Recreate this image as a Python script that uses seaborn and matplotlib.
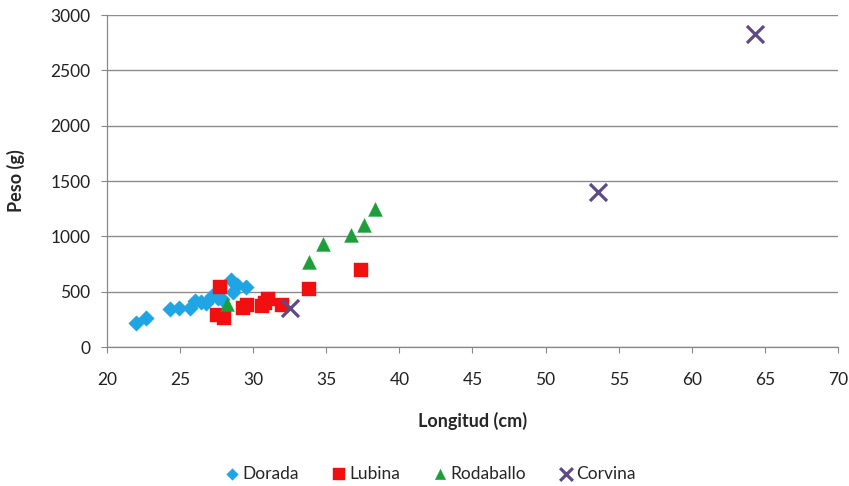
import matplotlib
matplotlib.use("Agg")
import matplotlib.pyplot as plt
import seaborn as sns
import pandas as pd

# Longitud (cm) y peso (g) por especie
dorada_x = [22.0, 22.7, 24.3, 24.9, 25.7, 26.0, 26.4, 26.8, 27.2, 27.6, 27.9, 28.5, 28.6, 28.9, 29.5]
dorada_y = [215, 260, 345, 350, 355, 420, 410, 400, 460, 440, 430, 610, 500, 560, 540]

lubina_x = [27.5, 27.7, 28.0, 29.3, 29.6, 30.6, 30.8, 31.0, 32.0, 33.8, 37.4]
lubina_y = [290, 540, 260, 350, 380, 370, 400, 430, 380, 525, 700]

rodaballo_x = [28.2, 33.8, 34.8, 36.7, 37.6, 38.3]
rodaballo_y = [385, 770, 930, 1010, 1100, 1250]

corvina_x = [32.5, 53.6, 64.3]
corvina_y = [350, 1400, 2830]

especies = ["Dorada", "Lubina", "Rodaballo", "Corvina"]
colores = {"Dorada": "#1FA5E3", "Lubina": "#F01010", "Rodaballo": "#1E9E3A", "Corvina": "#5E4A86"}
marcadores = {"Dorada": "D", "Lubina": "s", "Rodaballo": "^", "Corvina": "x"}
tamanos = {"Dorada": 62, "Lubina": 115, "Rodaballo": 100, "Corvina": 150}

frames = []
for nombre, xs, ys in [("Dorada", dorada_x, dorada_y), ("Lubina", lubina_x, lubina_y),
                       ("Rodaballo", rodaballo_x, rodaballo_y), ("Corvina", corvina_x, corvina_y)]:
    frames.append(pd.DataFrame({"Longitud": xs, "Peso": ys, "Especie": nombre}))
df = pd.concat(frames, ignore_index=True)

sns.set_style("white")
plt.rcParams["font.family"] = ["Lato", "DejaVu Sans"]

fig = plt.figure(figsize=(8.49, 4.86), dpi=100)
ax = fig.add_axes([0.126, 0.286, 0.861, 0.683])

ax.yaxis.grid(True, color="#8c8c8c", linewidth=1.0)
ax.set_axisbelow(True)

for nombre in especies:
    sub = df[df["Especie"] == nombre]
    if nombre == "Corvina":
        sns.scatterplot(data=sub, x="Longitud", y="Peso", ax=ax, color=colores[nombre],
                        marker="x", s=tamanos[nombre], linewidth=2.3, label=nombre, zorder=3)
    else:
        sns.scatterplot(data=sub, x="Longitud", y="Peso", ax=ax, color=colores[nombre],
                        marker=marcadores[nombre], s=tamanos[nombre], linewidth=0.3,
                        edgecolor=colores[nombre], label=nombre, zorder=3)

ax.set_xlim(20, 70)
ax.set_ylim(0, 3000)
ax.set_xticks(range(20, 71, 5))
ax.set_yticks(range(0, 3001, 500))
ax.tick_params(axis="both", labelsize=12.5, colors="#222222", length=4, width=0.8, direction="out",
               bottom=True, left=True, color="#888888")
ax.tick_params(axis="x", pad=14)
ax.tick_params(axis="y", pad=8)

for side in ["top", "right"]:
    ax.spines[side].set_visible(False)
for side in ["left", "bottom"]:
    ax.spines[side].set_color("#888888")
    ax.spines[side].set_linewidth(0.9)

ax.set_xlabel("Longitud (cm)", fontsize=13, fontweight="bold", labelpad=17)
ax.set_ylabel("Peso (g)", fontsize=13, fontweight="bold", labelpad=18)

ax.legend_.remove()
handles, labels = ax.get_legend_handles_labels()
fig.legend(handles, labels, loc="center", bbox_to_anchor=(0.505, 0.025), ncol=4, frameon=False,
           fontsize=12.5, handletextpad=0.0, columnspacing=1.7, markerscale=0.75,
           handlelength=1.2)

fig.savefig("out.png", dpi=100)
